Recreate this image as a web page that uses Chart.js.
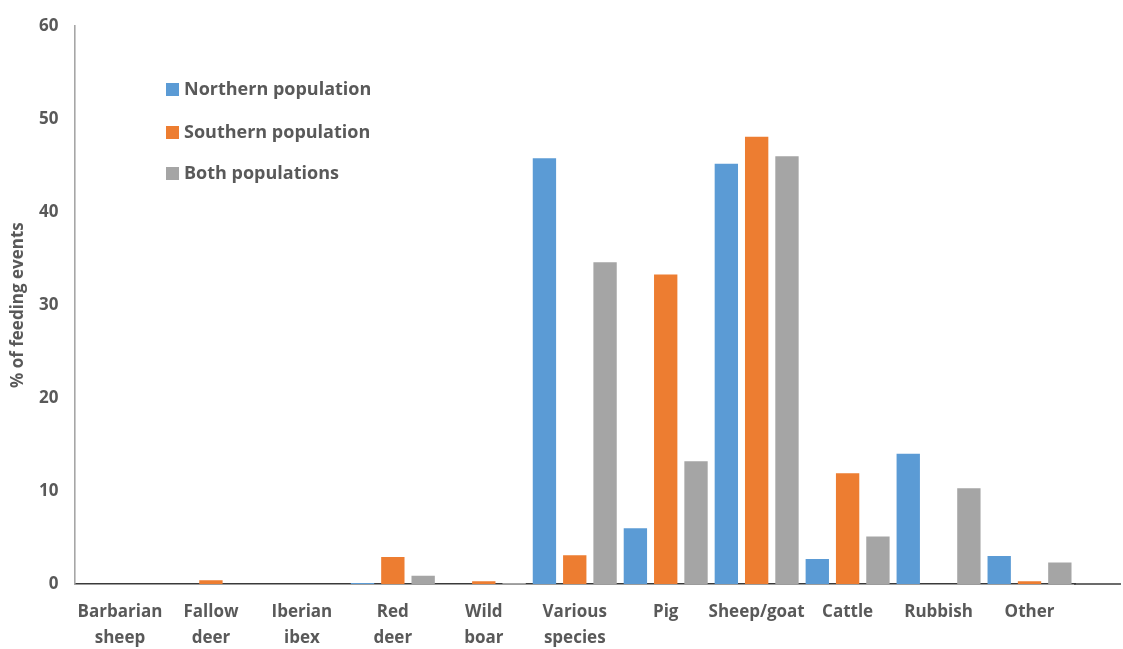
<!DOCTYPE html>
<html>
<head>
<meta charset="utf-8">
<script src="https://cdn.jsdelivr.net/npm/chart.js@4/dist/chart.umd.min.js"></script>
<style>
  html, body { margin: 0; padding: 0; background: #ffffff; }
  #wrap { width: 1123px; height: 649px; }
</style>
</head>
<body>
<div id="wrap"><canvas id="c" width="1123" height="649"></canvas></div>
<script>
// Food sources of feeding events, per population
const categories = [
  ['Barbarian', 'sheep'], ['Fallow', 'deer'], ['Iberian', 'ibex'], ['Red', 'deer'],
  ['Wild', 'boar'], ['Various', 'species'], 'Pig', 'Sheep/goat', 'Cattle', 'Rubbish', 'Other'
];
const northern = [0, 0, 0, 0.1, 0, 45.8, 6.0, 45.2, 2.7, 14.0, 3.0];
const southern = [0, 0.4, 0, 2.9, 0.3, 3.1, 33.3, 48.1, 11.9, 0, 0.3];
const both     = [0, 0, 0, 0.9, 0.1, 34.6, 13.2, 46.0, 5.1, 10.3, 2.3];
const seriesNames = ['Northern population', 'Southern population', 'Both populations'];
const seriesColors = ['#5B9BD5', '#ED7D31', '#A5A5A5'];
const yTicks = [0, 10, 20, 30, 40, 50, 60];

const textColor = '#595959';
const fontFamily = '"Open Sans", "Noto Sans", sans-serif';

// Legend drawn inside the plot area, top-left
const innerLegend = {
  id: 'innerLegend',
  afterDraw(chart) {
    const ctx = chart.ctx;
    const rows = [89, 132, 173];
    ctx.save();
    ctx.font = 'bold 18px ' + fontFamily;
    ctx.textBaseline = 'middle';
    ctx.textAlign = 'left';
    chart.data.datasets.forEach((ds, i) => {
      ctx.fillStyle = ds.backgroundColor;
      ctx.fillRect(166, rows[i] - 6, 13, 13);
      ctx.fillStyle = textColor;
      ctx.fillText(ds.label, 184, rows[i] + 1);
    });
    ctx.restore();
  }
};

// Horizontal axis line runs on past the last category
const axisExtension = {
  id: 'axisExtension',
  afterDraw(chart) {
    const ctx = chart.ctx;
    const y = chart.scales.y.getPixelForValue(0);
    ctx.save();
    ctx.strokeStyle = '#3a3a3a';
    ctx.lineWidth = 1.6;
    ctx.beginPath();
    ctx.moveTo(chart.chartArea.right - 1, y);
    ctx.lineTo(1121, y);
    ctx.stroke();
    ctx.restore();
  }
};

new Chart(document.getElementById('c'), {
  type: 'bar',
  data: {
    labels: categories,
    datasets: [
      { label: seriesNames[0], data: northern, backgroundColor: seriesColors[0] },
      { label: seriesNames[1], data: southern, backgroundColor: seriesColors[1] },
      { label: seriesNames[2], data: both, backgroundColor: seriesColors[2] }
    ]
  },
  options: {
    responsive: false,
    animation: false,
    layout: { padding: { left: 0, right: 48, top: 23, bottom: 0 } },
    datasets: { bar: { categoryPercentage: 1.0, barPercentage: 0.77 } },
    plugins: {
      legend: { display: false },
      tooltip: { enabled: false }
    },
    scales: {
      x: {
        grid: { display: false, drawTicks: false },
        border: { display: true, color: '#3a3a3a', width: 1.6 },
        ticks: {
          color: textColor,
          font: { family: fontFamily, size: 17, weight: 'bold', lineHeight: 1.53 },
          padding: 15,
          maxRotation: 0,
          autoSkip: false
        },
        afterFit(s) { s.height = 65; }
      },
      y: {
        min: 0,
        max: 60,
        afterBuildTicks(s) { s.ticks = yTicks.map(v => ({ value: v })); },
        grid: { display: false, drawTicks: false },
        border: { display: true, color: '#A6A6A6', width: 1.6 },
        ticks: {
          color: textColor,
          font: { family: fontFamily, size: 17, weight: 'bold' },
          padding: 16
        },
        title: {
          display: true,
          text: '% of feeding events',
          color: textColor,
          font: { family: fontFamily, size: 17, weight: 'bold' },
          padding: { top: 8, bottom: 0 }
        },
        afterFit(s) { s.width = 74.5; }
      }
    }
  },
  plugins: [innerLegend, axisExtension]
});
</script>
</body>
</html>
